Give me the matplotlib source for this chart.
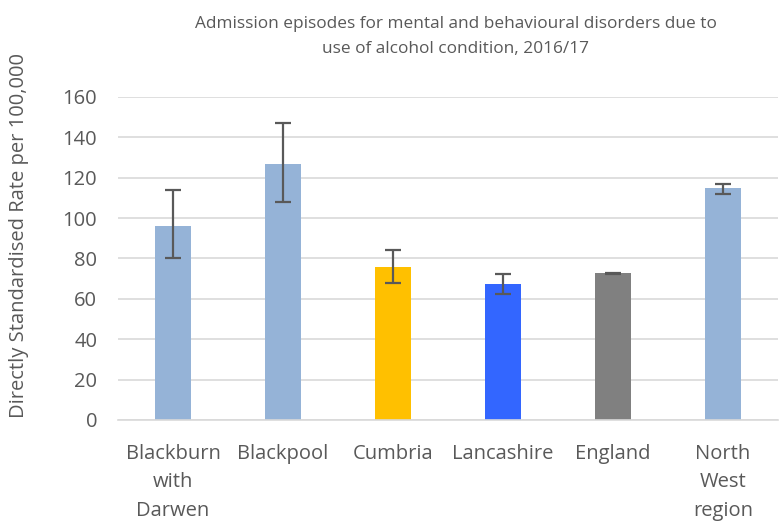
import matplotlib
matplotlib.use("Agg")
import matplotlib.pyplot as plt
import numpy as np

categories = ["Blackburn\nwith\nDarwen", "Blackpool", "Cumbria", "Lancashire", "England", "North\nWest\nregion"]
values = [96.2, 126.7, 75.6, 67.3, 72.6, 114.7]
lower = [80.3, 108.0, 68.0, 62.4, 72.2, 111.7]
upper = [113.9, 147.0, 84.0, 72.1, 72.9, 116.8]
colors = ["#95B3D7", "#95B3D7", "#FFC000", "#3366FF", "#808080", "#95B3D7"]

plt.rcParams['font.family'] = ['Open Sans', 'DejaVu Sans']
txt = '#595959'

fig = plt.figure(figsize=(7.82, 5.21), dpi=100)
ax = fig.add_axes([0.151, 0.194, 0.844, 0.62])

x = np.arange(len(categories))
vals = np.array(values)
yerr = np.array([vals - np.array(lower), np.array(upper) - vals])
ax.bar(x, vals, width=0.33, color=colors, zorder=2)
ax.errorbar(x, vals, yerr=yerr, fmt='none', ecolor='#595959', elinewidth=1.6,
            capsize=6, capthick=1.6, zorder=3)

ax.set_xlim(-0.5, len(categories) - 0.5)
ax.set_ylim(0, 160)
ax.set_yticks(np.arange(0, 161, 20))
ax.yaxis.grid(True, color='#D9D9D9', linewidth=1.2, zorder=0)
ax.set_axisbelow(True)
for s in ['top', 'right', 'left']:
    ax.spines[s].set_visible(False)
ax.spines['bottom'].set_color('#D9D9D9')
ax.spines['bottom'].set_linewidth(1.2)
ax.tick_params(axis='both', length=0, labelsize=14.5, colors=txt)
ax.tick_params(axis='y', pad=15)
ax.tick_params(axis='x', pad=17)
ax.set_xticks(x)
ax.set_xticklabels(categories, linespacing=1.58)
ax.set_ylabel("Directly Standardised Rate per 100,000", fontsize=14.5, color=txt)
ax.yaxis.set_label_coords(-0.135, 0.57)

fig.text(0.583, 0.97, "Admission episodes for mental and behavioural disorders due to\nuse of alcohol condition, 2016/17",
         ha='center', va='top', fontsize=12.4, color=txt, linespacing=1.8)

fig.savefig("out.png", dpi=100)
